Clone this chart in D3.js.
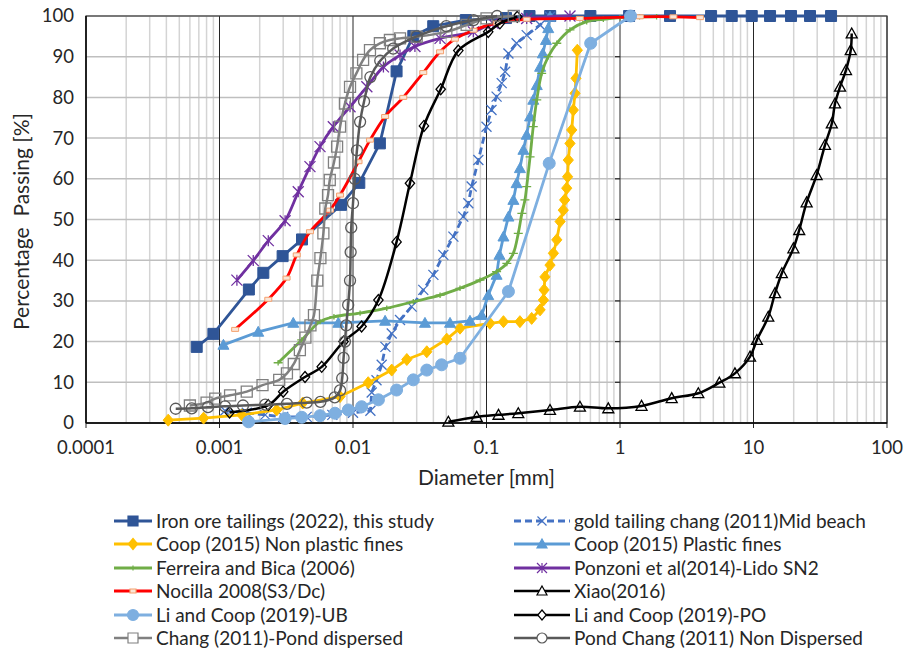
<!DOCTYPE html>
<html>
<head>
<meta charset="utf-8">
<script src="https://cdn.jsdelivr.net/npm/d3@7"></script>
<style>
  body { margin: 0; background: #fff; }
  svg text { font-family: Lato, "Liberation Sans", sans-serif; fill: #262626; }
</style>
</head>
<body>
<div id="chart"></div>
<script>
// grain size curves, diameter in mm / percent passing
var ironD = [0.000675, 0.0009, 0.00166, 0.00213, 0.00297, 0.00415, 0.00813, 0.01115, 0.0159, 0.0212, 0.0283, 0.0399, 0.07, 0.14, 0.21, 0.3, 0.6, 1.17, 2.37, 4.81, 6.87, 9.7, 13.3, 19.1, 26.5, 38.1];
var ironP = [18.7, 21.9, 32.8, 36.9, 41.0, 45.1, 53.6, 59.0, 68.7, 86.4, 95.1, 97.5, 99, 99.5, 100, 100, 100, 100, 100, 100, 100, 100, 100, 100, 100, 100];

var goldD = [0.0011, 0.0016, 0.0022, 0.003, 0.0045, 0.007, 0.010, 0.0135, 0.0138, 0.015, 0.0164, 0.0175, 0.0195, 0.0225, 0.0275, 0.0336, 0.040, 0.0475, 0.0565, 0.067, 0.0731, 0.0774, 0.0869, 0.100, 0.109, 0.119, 0.130, 0.138, 0.146, 0.168, 0.200, 0.252, 0.299];
var goldP = [3.0, 2.5, 2.0, 1.5, 1.5, 2.0, 2.5, 3.0, 7.5, 10.5, 14.3, 18.7, 22.0, 25.3, 28.6, 32.7, 36.4, 41.3, 45.8, 50.7, 54.0, 58.1, 64.6, 72.8, 76.9, 80.2, 83.5, 86.3, 90.8, 93.3, 95.3, 97.8, 99.8];

var coopNpD = [0.000413, 0.00076, 0.00147, 0.00268, 0.0042, 0.0080, 0.0130, 0.0195, 0.0253, 0.0357, 0.0504, 0.0633, 0.106, 0.134, 0.178, 0.218, 0.252, 0.267, 0.270, 0.274, 0.299, 0.317, 0.336, 0.356, 0.376, 0.385, 0.399, 0.405, 0.410, 0.422, 0.435, 0.447, 0.460, 0.468, 0.479];
var coopNpP = [0.7, 1.2, 2.0, 3.2, 4.9, 6.5, 9.9, 13.0, 15.6, 17.5, 20.6, 23.3, 24.5, 24.9, 24.9, 25.7, 27.8, 30.2, 32.7, 35.9, 38.8, 41.7, 45.0, 49.5, 52.3, 54.8, 57.7, 60.5, 64.6, 68.7, 72.0, 76.9, 81.0, 84.7, 91.6];

var coopPD = [0.00107, 0.00195, 0.00357, 0.00776, 0.0174, 0.0346, 0.0533, 0.0752, 0.0921, 0.103, 0.119, 0.125, 0.134, 0.146, 0.159, 0.168, 0.178, 0.189, 0.200, 0.212, 0.224, 0.238, 0.252, 0.264, 0.279, 0.290, 0.299];
var coopPP = [19.2, 22.4, 24.6, 24.6, 25.1, 24.6, 24.6, 25.1, 26.5, 31.4, 36.4, 41.3, 45.8, 50.7, 54.8, 58.9, 62.6, 67.1, 70.8, 75.3, 79.4, 83.0, 87.5, 90.8, 94.1, 97.0, 99.8];

var ferD = [0.00275, 0.00413, 0.00566, 0.0072, 0.0113, 0.0179, 0.0283, 0.0449, 0.0633, 0.0894, 0.119, 0.142, 0.159, 0.173, 0.184, 0.194, 0.200, 0.212, 0.224, 0.238, 0.259, 0.290, 0.336, 0.422, 0.563, 0.750, 1.0, 1.4, 1.88];
var ferP = [14.8, 20.4, 24.9, 26.1, 27.0, 28.2, 29.8, 31.4, 33.1, 35.1, 37.2, 39.2, 41.7, 46.6, 51.5, 54.8, 58.1, 65.4, 72.8, 79.4, 85.9, 90.0, 93.3, 96.6, 98.6, 99.2, 99.6, 99.8, 99.8];

var ponD = [0.00135, 0.00179, 0.00232, 0.0031, 0.00389, 0.00476, 0.00566, 0.00712, 0.0095, 0.0127, 0.0169, 0.0225, 0.0291, 0.0449, 0.0797, 0.112, 0.200, 0.422];
var ponP = [35.1, 39.9, 44.8, 49.7, 56.8, 63.0, 67.9, 72.8, 77.7, 82.6, 87.5, 90.4, 92.5, 94.5, 96.1, 98.2, 99.4, 100];

var nocD = [0.00131, 0.00232, 0.00318, 0.00379, 0.00476, 0.00673, 0.0080, 0.0110, 0.0134, 0.0174, 0.0238, 0.0336, 0.0449, 0.058, 0.08, 0.12, 0.2, 0.5, 1.41, 2.51, 3.97];
var nocP = [23.0, 30.4, 35.6, 41.3, 47.0, 52.3, 56.0, 64.2, 69.5, 75.3, 80.0, 86.1, 91.2, 94.3, 96.5, 98.3, 99.2, 99.4, 99.8, 99.8, 99.6];

var xiaoD = [0.0518, 0.0844, 0.123, 0.173, 0.299, 0.501, 0.817, 1.45, 2.44, 3.86, 5.55, 7.26, 9.42, 10.6, 12.9, 14.5, 16.3, 19.9, 22.0, 25.0, 29.7, 34.3, 38.6, 40.8, 44.5, 49.3, 53.5, 54.4];
var xiaoP = [0.3, 1.5, 2.0, 2.4, 3.2, 4.0, 3.6, 4.2, 6.1, 7.3, 9.9, 12.2, 16.3, 20.4, 26.1, 31.9, 36.8, 42.9, 47.4, 54.2, 60.9, 68.3, 73.6, 78.5, 82.6, 86.7, 91.6, 95.7];

var liUbD = [0.00165, 0.0031, 0.00413, 0.00566, 0.00733, 0.00922, 0.0116, 0.0155, 0.0212, 0.0283, 0.0357, 0.0461, 0.0633, 0.146, 0.295, 0.603, 1.2];
var liUbP = [0.3, 1.1, 1.4, 1.8, 2.4, 3.2, 4.0, 5.7, 8.1, 10.6, 13.0, 14.3, 15.9, 32.3, 63.8, 93.3, 100];

var liPoD = [0.00119, 0.00232, 0.003, 0.00437, 0.00583, 0.0085, 0.0116, 0.0155, 0.0212, 0.0267, 0.034, 0.0454, 0.0615, 0.103, 0.126, 0.17];
var liPoP = [2.6, 4.4, 7.7, 11.3, 13.8, 20.0, 23.7, 30.2, 44.5, 58.9, 73.0, 82.0, 91.5, 96.1, 98.2, 99.8];

var changD = [0.0006, 0.0008, 0.00093, 0.0012, 0.0016, 0.0021, 0.0028, 0.0032, 0.0036, 0.0040, 0.0044, 0.0048, 0.0051, 0.0054, 0.0057, 0.0060, 0.0062, 0.0065, 0.0067, 0.0072, 0.0076, 0.0080, 0.0087, 0.0095, 0.0106, 0.0119, 0.0134, 0.0159, 0.0189, 0.0225, 0.030, 0.050, 0.071, 0.10, 0.16];
var changP = [4.3, 5.0, 6.0, 6.8, 7.7, 9.3, 10.6, 12.2, 14.5, 17.9, 21.0, 24.0, 26.5, 35.0, 40.5, 46.6, 52.7, 56.0, 59.7, 64.0, 67.9, 72.8, 78.5, 82.6, 85.9, 89.2, 91.6, 93.3, 94.1, 94.5, 94.9, 96.1, 97.8, 99.4, 100];

var pondD = [0.00047, 0.00062, 0.00082, 0.0011, 0.0015, 0.0022, 0.0032, 0.0045, 0.0057, 0.0073, 0.0080, 0.0083, 0.0085, 0.0087, 0.0089, 0.0092, 0.0095, 0.0096, 0.0097, 0.0100, 0.0103, 0.0107, 0.0113, 0.0121, 0.0135, 0.016, 0.02, 0.03, 0.05, 0.08, 0.12];
var pondP = [3.5, 3.6, 3.9, 4.1, 4.3, 4.5, 4.7, 5.0, 5.2, 6.3, 8.0, 11, 16, 20, 24, 29, 35, 42, 48, 54, 60, 67, 74, 79, 85, 89, 92, 95, 97.5, 99, 100];

var seriesNames = [
  "Iron ore tailings (2022), this study",
  "gold tailing chang (2011)Mid beach",
  "Coop (2015) Non plastic fines",
  "Coop (2015) Plastic fines",
  "Ferreira and Bica (2006)",
  "Ponzoni et al(2014)-Lido SN2",
  "Nocilla 2008(S3/Dc)",
  "Xiao(2016)",
  "Li and Coop (2019)-UB",
  "Li and Coop (2019)-PO",
  "Chang (2011)-Pond dispersed",
  "Pond Chang (2011) Non Dispersed"
];
var xTicks = [0.0001, 0.001, 0.01, 0.1, 1, 10, 100];
var yTicks = [0, 10, 20, 30, 40, 50, 60, 70, 80, 90, 100];

var seriesData = [
  [ironD, ironP], [goldD, goldP], [coopNpD, coopNpP], [coopPD, coopPP],
  [ferD, ferP], [ponD, ponP], [nocD, nocP], [xiaoD, xiaoP],
  [liUbD, liUbP], [liPoD, liPoP], [changD, changP], [pondD, pondP]
];

// styling per series
var styles = [
  { color: "#2f5597", marker: "square", size: 11, fill: "#2f5597", smooth: false },
  { color: "#4472c4", marker: "x", size: 10, fill: "none", dash: "7,4", smooth: false },
  { color: "#ffc000", marker: "diamond", size: 12, fill: "#ffc000", smooth: false },
  { color: "#5b9bd5", marker: "triangle", size: 11, fill: "#5b9bd5", smooth: false },
  { color: "#70ad47", marker: "plus", size: 9, fill: "none", smooth: true },
  { color: "#7030a0", marker: "star", size: 11, fill: "none", smooth: true },
  { color: "#ff0000", marker: "dash", size: 7, fill: "#fbe5d6", mstroke: "#f4a16e", smooth: true },
  { color: "#000000", marker: "triangle", size: 11, fill: "none", smooth: true, lw: 2.5 },
  { color: "#7eafe0", marker: "circle", size: 12, fill: "#7eafe0", smooth: false },
  { color: "#000000", marker: "diamond", size: 11, fill: "none", smooth: true, lw: 2.5 },
  { color: "#808080", marker: "square", size: 11, fill: "none", smooth: true, lw: 2.5 },
  { color: "#595959", marker: "circle", size: 11, fill: "none", smooth: true, lw: 2.5 }
];

var width = 916, height = 664;
var margin = { left: 86, right: 29, top: 16, bottom: 241 };

var svg = d3.select("#chart").append("svg")
  .attr("width", width)
  .attr("height", height);

var x = d3.scaleLog().domain([0.0001, 100]).range([margin.left, width - margin.right]);
var y = d3.scaleLinear().domain([0, 100]).range([height - margin.bottom, margin.top]);

var x0 = x.range()[0], x1 = x.range()[1], yb = y(0), yt = y(100);

// minor vertical gridlines
var minors = [];
xTicks.slice(0, -1).forEach(function (t) {
  for (var k = 2; k <= 9; k++) minors.push(t * k);
});
svg.append("g").selectAll("line").data(minors).enter().append("line")
  .attr("x1", function (d) { return x(d); }).attr("x2", function (d) { return x(d); })
  .attr("y1", yt).attr("y2", yb)
  .attr("stroke", "#d4d4d4").attr("stroke-width", 1.5);

// horizontal gridlines
svg.append("g").selectAll("line").data(yTicks).enter().append("line")
  .attr("x1", x0).attr("x2", x1)
  .attr("y1", function (d) { return y(d); }).attr("y2", function (d) { return y(d); })
  .attr("stroke", "#bfbfbf").attr("stroke-width", 1.5);

// decade lines
svg.append("g").selectAll("line").data(xTicks).enter().append("line")
  .attr("x1", function (d) { return x(d); }).attr("x2", function (d) { return x(d); })
  .attr("y1", yt).attr("y2", yb + 5)
  .attr("stroke", "#262626").attr("stroke-width", 1);

// plot border
svg.append("rect")
  .attr("x", x0).attr("y", yt).attr("width", x1 - x0).attr("height", yb - yt)
  .attr("fill", "none").attr("stroke", "#404040").attr("stroke-width", 1.2);
svg.append("line").attr("x1", x0).attr("x2", x1).attr("y1", yb).attr("y2", yb)
  .attr("stroke", "#000").attr("stroke-width", 1.5);
svg.append("line").attr("x1", x0).attr("x2", x0).attr("y1", yt).attr("y2", yb)
  .attr("stroke", "#000").attr("stroke-width", 1.3);

// value axis crosses at 1: tick marks
svg.append("g").selectAll("line").data(yTicks).enter().append("line")
  .attr("x1", x(1) - 5).attr("x2", x(1))
  .attr("y1", function (d) { return y(d); }).attr("y2", function (d) { return y(d); })
  .attr("stroke", "#262626").attr("stroke-width", 1.2);

// tick labels
svg.append("g").selectAll("text").data(yTicks).enter().append("text")
  .attr("x", x0 - 12).attr("y", function (d) { return y(d); })
  .attr("dy", "0.35em").attr("text-anchor", "end")
  .style("font-size", "18.5px")
  .text(function (d) { return d; });

svg.append("g").selectAll("text").data(xTicks).enter().append("text")
  .attr("x", function (d) { return x(d); }).attr("y", yb + 25)
  .attr("dy", "0.35em").attr("text-anchor", "middle")
  .style("font-size", "18.5px")
  .text(function (d) { return d; });

svg.append("text")
  .attr("x", (x0 + x1) / 2).attr("y", yb + 55)
  .attr("dy", "0.35em").attr("text-anchor", "middle")
  .style("font-size", "21px")
  .text("Diameter [mm]");

svg.append("text")
  .attr("transform", "translate(22," + ((yt + yb) / 2 + 2) + ") rotate(-90)")
  .attr("dy", "0.35em").attr("text-anchor", "middle")
  .style("font-size", "21px")
  .style("white-space", "pre")
  .text("Percentage  Passing [%]");

function markerPath(type, s) {
  var r = s / 2;
  switch (type) {
    case "square": return "M" + (-r) + "," + (-r) + "h" + s + "v" + s + "h" + (-s) + "Z";
    case "diamond": return "M0," + (-r) + "L" + (r * 0.85) + ",0L0," + r + "L" + (-r * 0.85) + ",0Z";
    case "triangle": return "M0," + (-r) + "L" + r + "," + (r * 0.8) + "L" + (-r) + "," + (r * 0.8) + "Z";
    case "circle": return "M" + r + ",0A" + r + "," + r + " 0 1,1 " + (-r) + ",0A" + r + "," + r + " 0 1,1 " + r + ",0Z";
    case "x": return "M" + (-r) + "," + (-r) + "L" + r + "," + r + "M" + (-r) + "," + r + "L" + r + "," + (-r);
    case "star": return "M" + (-r) + "," + (-r) + "L" + r + "," + r + "M" + (-r) + "," + r + "L" + r + "," + (-r) + "M0," + (-r) + "L0," + r;
    case "plus": return "M" + (-r) + ",0L" + r + ",0M0," + (-r * 0.6) + "L0," + (r * 0.6);
    case "dash": return "M" + (-r) + ",-2h" + s + "v4h" + (-s) + "Z";
  }
}

var line = d3.line()
  .x(function (d) { return x(d[0]); })
  .y(function (d) { return y(d[1]); });

var plot = svg.append("g");
seriesData.forEach(function (sd, i) {
  var st = styles[i];
  var pts = sd[0].map(function (d, j) { return [d, sd[1][j]]; });
  line.curve(st.smooth ? d3.curveCatmullRom.alpha(0.5) : d3.curveLinear);
  var g = plot.append("g");
  g.append("path")
    .attr("d", line(pts))
    .attr("fill", "none")
    .attr("stroke", st.color)
    .attr("stroke-width", st.lw || 2.8)
    .attr("stroke-dasharray", st.dash || null)
    .attr("stroke-linejoin", "round");
  g.selectAll("path.m").data(pts).enter().append("path")
    .attr("class", "m")
    .attr("transform", function (d) { return "translate(" + x(d[0]) + "," + y(d[1]) + ")"; })
    .attr("d", markerPath(st.marker, st.size))
    .attr("fill", st.fill)
    .attr("stroke", st.mstroke || st.color)
    .attr("stroke-width", st.fill === "none" ? 1.3 : 1);
});

// legend
var legendRows = [521, 544, 568, 591, 615, 638];
var legend = svg.append("g");
seriesNames.forEach(function (name, i) {
  var st = styles[i];
  var col = i % 2, row = Math.floor(i / 2);
  var lx0 = col === 0 ? 114 : 514;
  var lx1 = col === 0 ? 152 : 570;
  var ly = legendRows[row];
  var g = legend.append("g");
  g.append("line")
    .attr("x1", lx0).attr("x2", lx1).attr("y1", ly).attr("y2", ly)
    .attr("stroke", st.color).attr("stroke-width", st.lw || 2.8)
    .attr("stroke-dasharray", st.dash || null);
  g.append("path")
    .attr("transform", "translate(" + ((lx0 + lx1) / 2) + "," + ly + ")")
    .attr("d", markerPath(st.marker, st.size - 1))
    .attr("fill", st.fill === "none" ? "#fff" : st.fill)
    .attr("stroke", st.mstroke || st.color)
    .attr("stroke-width", 1.2);
  g.append("text")
    .attr("x", lx1 + 4).attr("y", ly).attr("dy", "0.35em")
    .style("font-size", "19px")
    .text(name);
});
</script>
</body>
</html>
